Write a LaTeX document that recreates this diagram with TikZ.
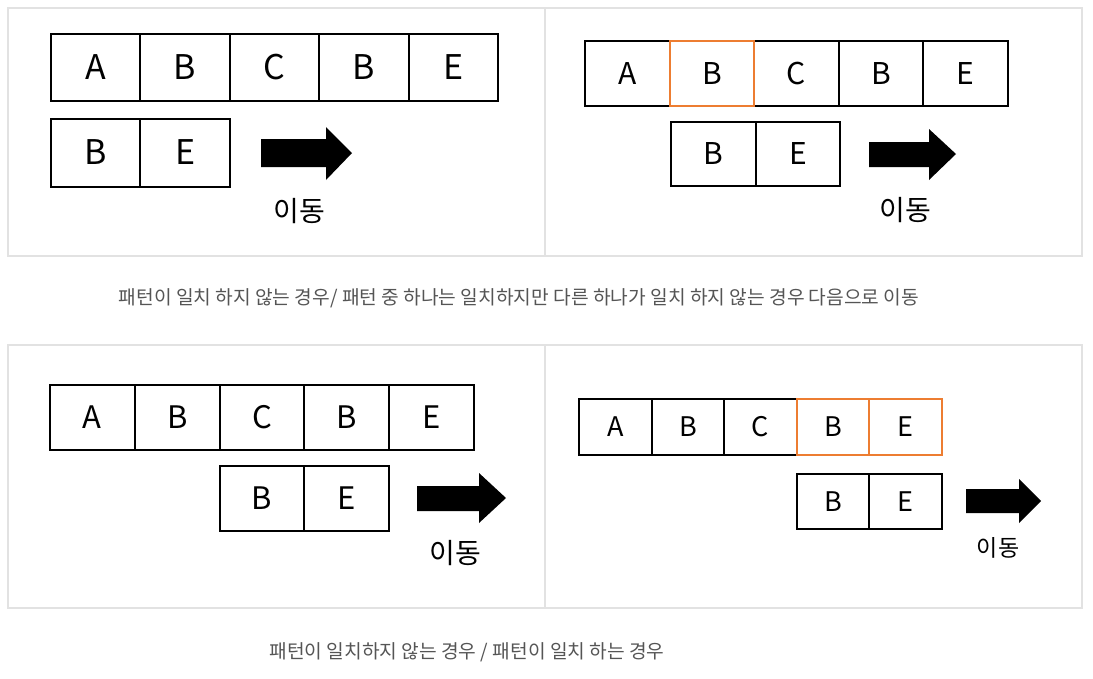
\documentclass[tikz,border=0pt]{standalone}
\usepackage{fontspec}
\setmainfont{Noto Sans CJK KR}
\usepackage{tikz}
\usetikzlibrary{positioning}

\definecolor{hit}{RGB}{237,125,49}
\definecolor{framegray}{RGB}{226,226,226}
\definecolor{capgray}{RGB}{85,85,85}

\tikzset{
	cell/.style={draw, line width=2pt, inner sep=0pt, outer sep=0pt},
	hitcell/.style={cell, draw=hit},
	frame/.style={draw=framegray, line width=1.4pt},
	movelabel/.style={inner sep=0pt},
	caption/.style={inner sep=0pt, text=capgray, font=\fontsize{19.2}{22}\selectfont}
}

\begin{document}
\begin{tikzpicture}[x=1pt,y=-1pt]
						\useasboundingbox[fill=white] (0,0) rectangle (1093,678);

						% panels
						\draw[frame] (8,8) rectangle (1082,256);
						\draw[frame] (545,8) -- (545,256);
						\draw[frame] (8,345) rectangle (1082,608);
						\draw[frame] (545,345) -- (545,608);

						% top left
						\foreach \l [count=\i] in {A,B,C,B,E}
							\node[cell, minimum width=89.4, minimum height=67, font=\fontsize{34}{40}\selectfont] (tl\i) at ({51+(\i-0.5)*89.4},67.5) {\l};
						\foreach \l [count=\i] in {B,E}
							\node[cell, minimum width=89.4, minimum height=68, font=\fontsize{34}{40}\selectfont] (tp\i) at ({51+(\i-0.5)*89.4},152.5) {\l};
						\fill (261,139) -- (326,139) -- (326,127) -- (352,153) -- (326,180) -- (326,167) -- (261,167) -- cycle;
						\node[movelabel, font=\fontsize{28}{32}\selectfont] (tlmove) at (299,211) {이동};

						% top right
						\foreach \l [count=\i] in {A,B,C,B,E}
							\node[cell, minimum width=84.6, minimum height=65, font=\fontsize{30}{35}\selectfont] (tr\i) at ({585+(\i-0.5)*84.6},73.5) {\l};
						\node[hitcell, minimum width=84.6, minimum height=65] at (tr2) {};
						\foreach \l [count=\i] in {B,E}
							\node[cell, minimum width=84.6, minimum height=64, font=\fontsize{30}{35}\selectfont] (trp\i) at ({671+(\i-0.5)*84.6},154) {\l};
						\fill (869,142) -- (929,142) -- (929,129) -- (956,154) -- (929,180) -- (929,167) -- (869,167) -- cycle;
						\node[movelabel, font=\fontsize{28}{32}\selectfont] (trmove) at (905,210) {이동};

						% caption top
						\node[caption] (captop) at (519,298) {패턴이 일치 하지 않는 경우/ 패턴 중 하나는 일치하지만 다른 하나가 일치 하지 않는 경우 다음으로 이동};

						% bottom left
						\foreach \l [count=\i] in {A,B,C,B,E}
							\node[cell, minimum width=84.8, minimum height=65, font=\fontsize{31}{36}\selectfont] (bl\i) at ({50+(\i-0.5)*84.8},417.5) {\l};
						\foreach \l [count=\i] in {B,E}
							\node[cell, minimum width=84.8, minimum height=65, font=\fontsize{31}{36}\selectfont] (blp\i) at ({219.6+(\i-0.5)*84.8},498.5) {\l};
						\fill (417,486) -- (479,486) -- (479,473) -- (506,498) -- (479,523) -- (479,511) -- (417,511) -- cycle;
						\node[movelabel, font=\fontsize{28}{32}\selectfont] (blmove) at (455,553) {이동};

						% bottom right
						\foreach \l [count=\i] in {A,B,C,B,E}
							\node[cell, minimum width=72.6, minimum height=56, font=\fontsize{27}{32}\selectfont] (br\i) at ({579+(\i-0.5)*72.6},427) {\l};
						\node[hitcell, minimum width=72.6, minimum height=56] at (br4) {};
						\node[hitcell, minimum width=72.6, minimum height=56] at (br5) {};
						\foreach \l [count=\i] in {B,E}
							\node[cell, minimum width=72.6, minimum height=55, font=\fontsize{27}{32}\selectfont] (brp\i) at ({796.8+(\i-0.5)*72.6},501.5) {\l};
						\fill (966,489) -- (1019,489) -- (1019,479) -- (1041,501) -- (1019,523) -- (1019,513) -- (966,513) -- cycle;
						\node[movelabel, font=\fontsize{23}{27}\selectfont] (brmove) at (998,548) {이동};

						% caption bottom
						\node[caption] (capbottom) at (467,652) {패턴이 일치하지 않는 경우 / 패턴이 일치 하는 경우};
					\end{tikzpicture}
\end{document}
